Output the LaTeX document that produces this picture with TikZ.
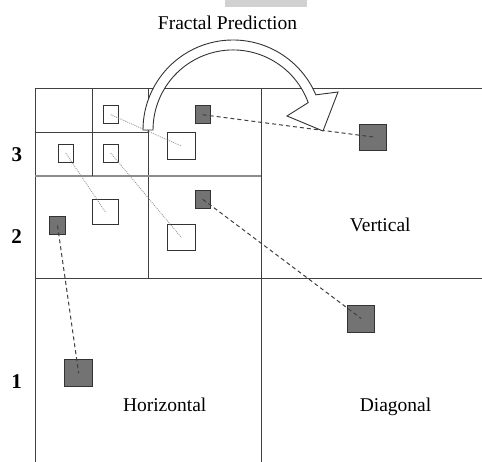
\documentclass[tikz,border=0pt]{standalone}
\usepackage{fontspec}
\setmainfont{Liberation Serif}
\usetikzlibrary{calc}
\begin{document}
\begin{tikzpicture}[x=1pt,y=-1pt,
  grid/.style={draw=black!75,line width=0.9pt},
  softgrid/.style={draw=black!45,line width=1.2pt},
  sq/.style={draw=black!80,line width=0.9pt,inner sep=0pt,outer sep=0pt},
  whitesq/.style={sq,fill=white},
  darksq/.style={sq,fill=black!55},
  link/.style={draw=black!45,line width=0.7pt,dash pattern=on 1pt off 1pt},
  pred/.style={draw=black!75,line width=1pt,dash pattern=on 4pt off 3pt},
  lbl/.style={font=\fontsize{19.5}{22}\selectfont,inner sep=0pt,anchor=base},
  lvl/.style={font=\fontsize{21}{24}\selectfont\bfseries,inner sep=0pt,anchor=base},
  bigarrow/.style={draw=black!80,line width=0.9pt,fill=white}]
\useasboundingbox (0,0) rectangle (482,462);
\fill[black!18] (225,0) rectangle (307,7);

% wavelet sub-band grid
\draw[grid] (35,462) -- (35,88) -- (482,88);
\draw[grid] (261,88) -- (261,462);
\draw[grid] (35,278) -- (482,278);
\draw[grid] (148,88) -- (148,278);
\draw[softgrid] (35,176) -- (261,176);
\draw[grid] (92,88) -- (92,176);
\draw[grid] (35,132) -- (148,132);

% coefficient blocks
\node[whitesq,minimum width=15pt,minimum height=18pt] (s1) at (110.7,114.7) {};
\node[whitesq,minimum width=15pt,minimum height=18pt] (s2) at (65.7,153) {};
\node[whitesq,minimum width=15pt,minimum height=18pt] (s3) at (110.7,153) {};
\node[whitesq,minimum width=28pt,minimum height=27pt] (m1) at (181.3,146) {};
\node[whitesq,minimum width=26pt,minimum height=25pt] (m2) at (105.3,211.8) {};
\node[whitesq,minimum width=28pt,minimum height=26pt] (m3) at (181.3,237.5) {};
\node[darksq,minimum width=15pt,minimum height=18pt] (d1) at (202.7,114.7) {};
\node[darksq,minimum width=15pt,minimum height=18pt] (d2) at (202.7,199.3) {};
\node[darksq,minimum width=15.5pt,minimum height=18pt] (d3) at (57.5,225.5) {};
\node[darksq,minimum width=27pt,minimum height=26pt] (D1) at (373.3,137) {};
\node[darksq,minimum width=27pt,minimum height=27pt] (D2) at (361.2,318.5) {};
\node[darksq,minimum width=28pt,minimum height=27pt] (D3) at (78.7,373.3) {};

% parent-child links
\draw[link] (s1.center) -- (m1.center);
\draw[link] (s2.center) -- (m2.center);
\draw[link] (s3.center) -- (m3.center);
\draw[pred] (d1.center) -- (D1.center);
\draw[pred] (d2.center) -- (D2.center);
\draw[pred] (d3.center) -- (D3.center);

% hollow curved arrow
\draw[bigarrow] (143,130) arc[start angle=180,end angle=337,radius=90]
  -- (338,92) -- (323,131) -- (287,116) -- (308.2,102.6)
  arc[start angle=340,end angle=180,radius=80] -- cycle;

% labels
\node[lbl] (title) at (227.5,29.3) {Fractal Prediction};
\node[lbl] (vert) at (380.3,231.7) {Vertical};
\node[lbl] (hor) at (164.7,411.7) {Horizontal};
\node[lbl] (diag) at (395.5,411.7) {Diagonal};
\node[lvl] (l3) at (17,161.7) {3};
\node[lvl] (l2) at (16.5,243.3) {2};
\node[lvl] (l1) at (16.5,388.3) {1};
\end{tikzpicture}
\end{document}
